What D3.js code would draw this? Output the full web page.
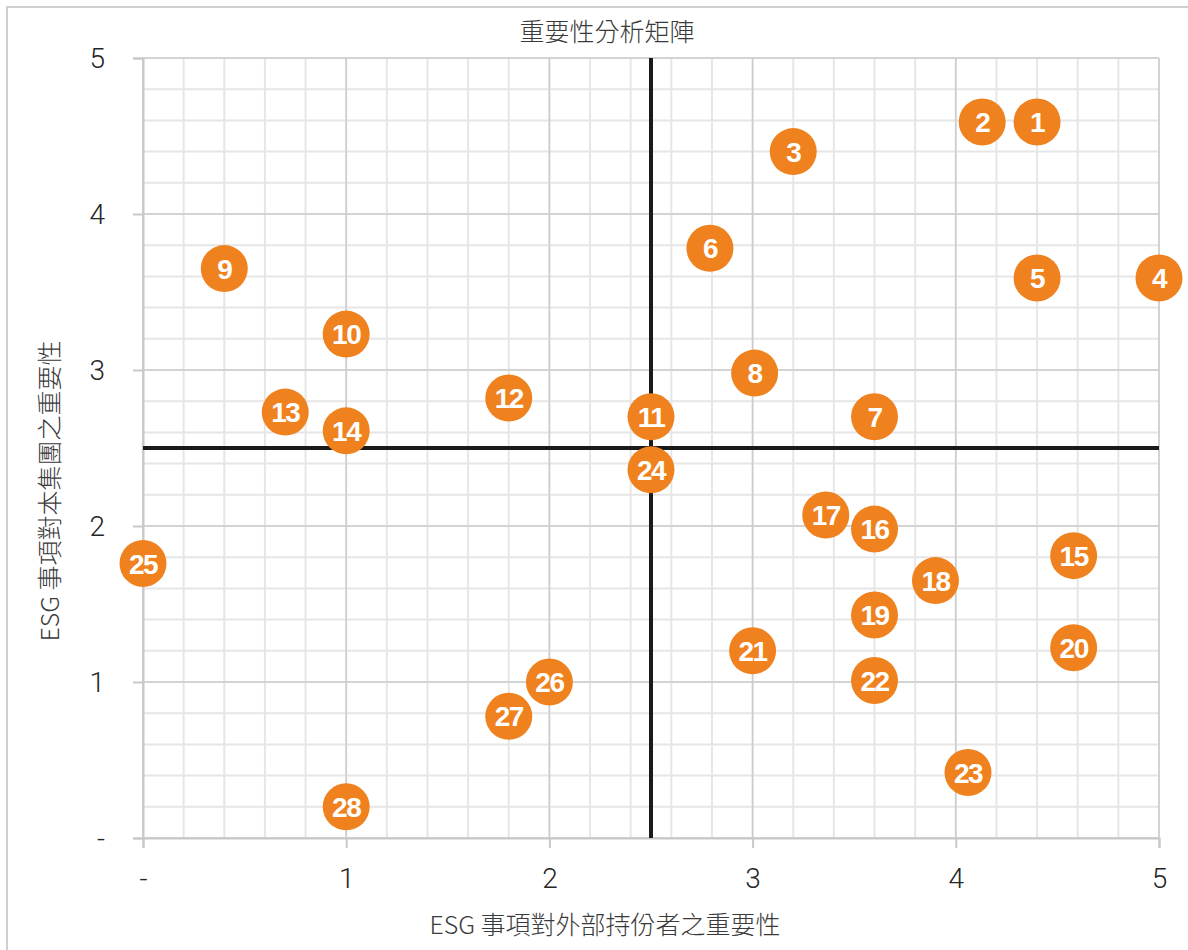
<!DOCTYPE html>
<html><head><meta charset="utf-8">
<script src="https://cdn.jsdelivr.net/npm/d3@7"></script>
<style>
html,body{margin:0;padding:0;background:#fff;}
svg{display:block;}
</style></head>
<body>
<svg id="chart" width="1188" height="950"></svg>
<script>
const labels = [1,2,3,4,5,6,7,8,9,10,11,12,13,14,15,16,17,18,19,20,21,22,23,24,25,26,27,28];
const xValues = [4.4,4.13,3.2,5.0,4.4,2.79,3.6,3.01,0.4,1.0,2.5,1.8,0.7,1.0,4.58,3.6,3.36,3.9,3.6,4.58,3.0,3.6,4.06,2.5,0.0,2.0,1.8,1.0];
const yValues = [4.59,4.59,4.4,3.59,3.59,3.78,2.7,2.98,3.65,3.23,2.7,2.82,2.73,2.61,1.81,1.98,2.07,1.65,1.43,1.22,1.2,1.01,0.42,2.36,1.76,1.0,0.78,0.2];
const tickValues = [0,1,2,3,4,5];
const tickLabels = ["-","1","2","3","4","5"];
const quadrantX = 2.5, quadrantY = 2.5;
const title = "重要性分析矩陣";
const xTitle = "ESG 事項對外部持份者之重要性";
const yTitle = "ESG 事項對本集團之重要性";

const svg = d3.select("#chart");
const m = {left:143, right:1159, top:58, bottom:838};
const x = d3.scaleLinear().domain([0,5]).range([m.left, m.right]);
const y = d3.scaleLinear().domain([0,5]).range([m.bottom, m.top]);

// outer frame
svg.append("rect").attr("x",7).attr("y",7).attr("width",1400).attr("height",1200)
  .attr("fill","none").attr("stroke","#cfcfcf").attr("stroke-width",2);

const fontNum = "Roboto, 'Open Sans', 'Liberation Sans', sans-serif";
const fontCJK = "'Noto Sans CJK TC', 'Noto Sans CJK SC', sans-serif";

// minor grid
const minor = d3.range(0,5.0001,0.2).map(v=>+v.toFixed(1));
const g = svg.append("g");
g.selectAll("line.mx").data(minor).join("line")
  .attr("x1",d=>x(d)).attr("x2",d=>x(d)).attr("y1",y(0)).attr("y2",y(5))
  .attr("stroke","#e6e6e6").attr("stroke-width",2);
g.selectAll("line.my").data(minor).join("line")
  .attr("y1",d=>y(d)).attr("y2",d=>y(d)).attr("x1",x(0)).attr("x2",x(5))
  .attr("stroke","#e6e6e6").attr("stroke-width",2);
// major grid
g.selectAll("line.Mx").data(tickValues).join("line")
  .attr("x1",d=>x(d)).attr("x2",d=>x(d)).attr("y1",y(0)).attr("y2",y(5))
  .attr("stroke","#cccccc").attr("stroke-width",1.5);
g.selectAll("line.My").data(tickValues).join("line")
  .attr("y1",d=>y(d)).attr("y2",d=>y(d)).attr("x1",x(0)).attr("x2",x(5))
  .attr("stroke","#cccccc").attr("stroke-width",1.5);

// axes
const xAxis = d3.axisBottom(x).tickValues(tickValues).tickFormat((d,i)=>tickLabels[i]).tickSize(10).tickPadding(20);
const yAxis = d3.axisLeft(y).tickValues(tickValues).tickFormat((d,i)=>tickLabels[i]).tickSize(10).tickPadding(28);
const gx = svg.append("g").attr("transform",`translate(0,${y(0)})`).call(xAxis);
const gy = svg.append("g").attr("transform",`translate(${x(0)},0)`).call(yAxis);
[gx,gy].forEach(a=>{
  a.select(".domain").attr("stroke","#c8c8c8").attr("stroke-width",2);
  a.selectAll(".tick line").attr("stroke","#c8c8c8").attr("stroke-width",2);
  a.selectAll(".tick text").attr("fill","#262626").attr("font-family",fontNum)
    .attr("font-weight",300).attr("font-size",28);
});
gy.selectAll(".tick text").attr("dy","0.35em");

// quadrant lines
svg.append("line").attr("x1",x(quadrantX)).attr("x2",x(quadrantX)).attr("y1",y(0)).attr("y2",y(5))
  .attr("stroke","#1a1a1a").attr("stroke-width",4);
svg.append("line").attr("x1",x(0)).attr("x2",x(5)).attr("y1",y(quadrantY)).attr("y2",y(quadrantY))
  .attr("stroke","#1a1a1a").attr("stroke-width",4);

// points
const pts = labels.map((l,i)=>({l, x:xValues[i], y:yValues[i]}));
const pg = svg.append("g").selectAll("g").data(pts).join("g")
  .attr("transform",d=>`translate(${x(d.x)},${y(d.y)})`);
pg.append("circle").attr("r",23.5).attr("fill","#ef821e");
pg.append("text").text(d=>d.l).attr("text-anchor","middle").attr("dy","0.36em")
  .attr("fill","#fff").attr("font-family","'Liberation Sans', Arial, sans-serif")
  .attr("font-weight","bold").attr("font-size",28).attr("letter-spacing",-1.5);

// titles
const tStyle = s => s.attr("font-family",fontCJK).attr("font-size",25).attr("font-weight",300).attr("fill","#3a3a3a");
svg.append("text").text(title).attr("x",607).attr("y",41).attr("text-anchor","middle").call(tStyle);
svg.append("text").text(xTitle).attr("x",605).attr("y",934).attr("text-anchor","middle").call(tStyle);
svg.append("text").text(yTitle).attr("transform","translate(59,491) rotate(-90)").attr("text-anchor","middle").call(tStyle);
</script>
</body></html>
